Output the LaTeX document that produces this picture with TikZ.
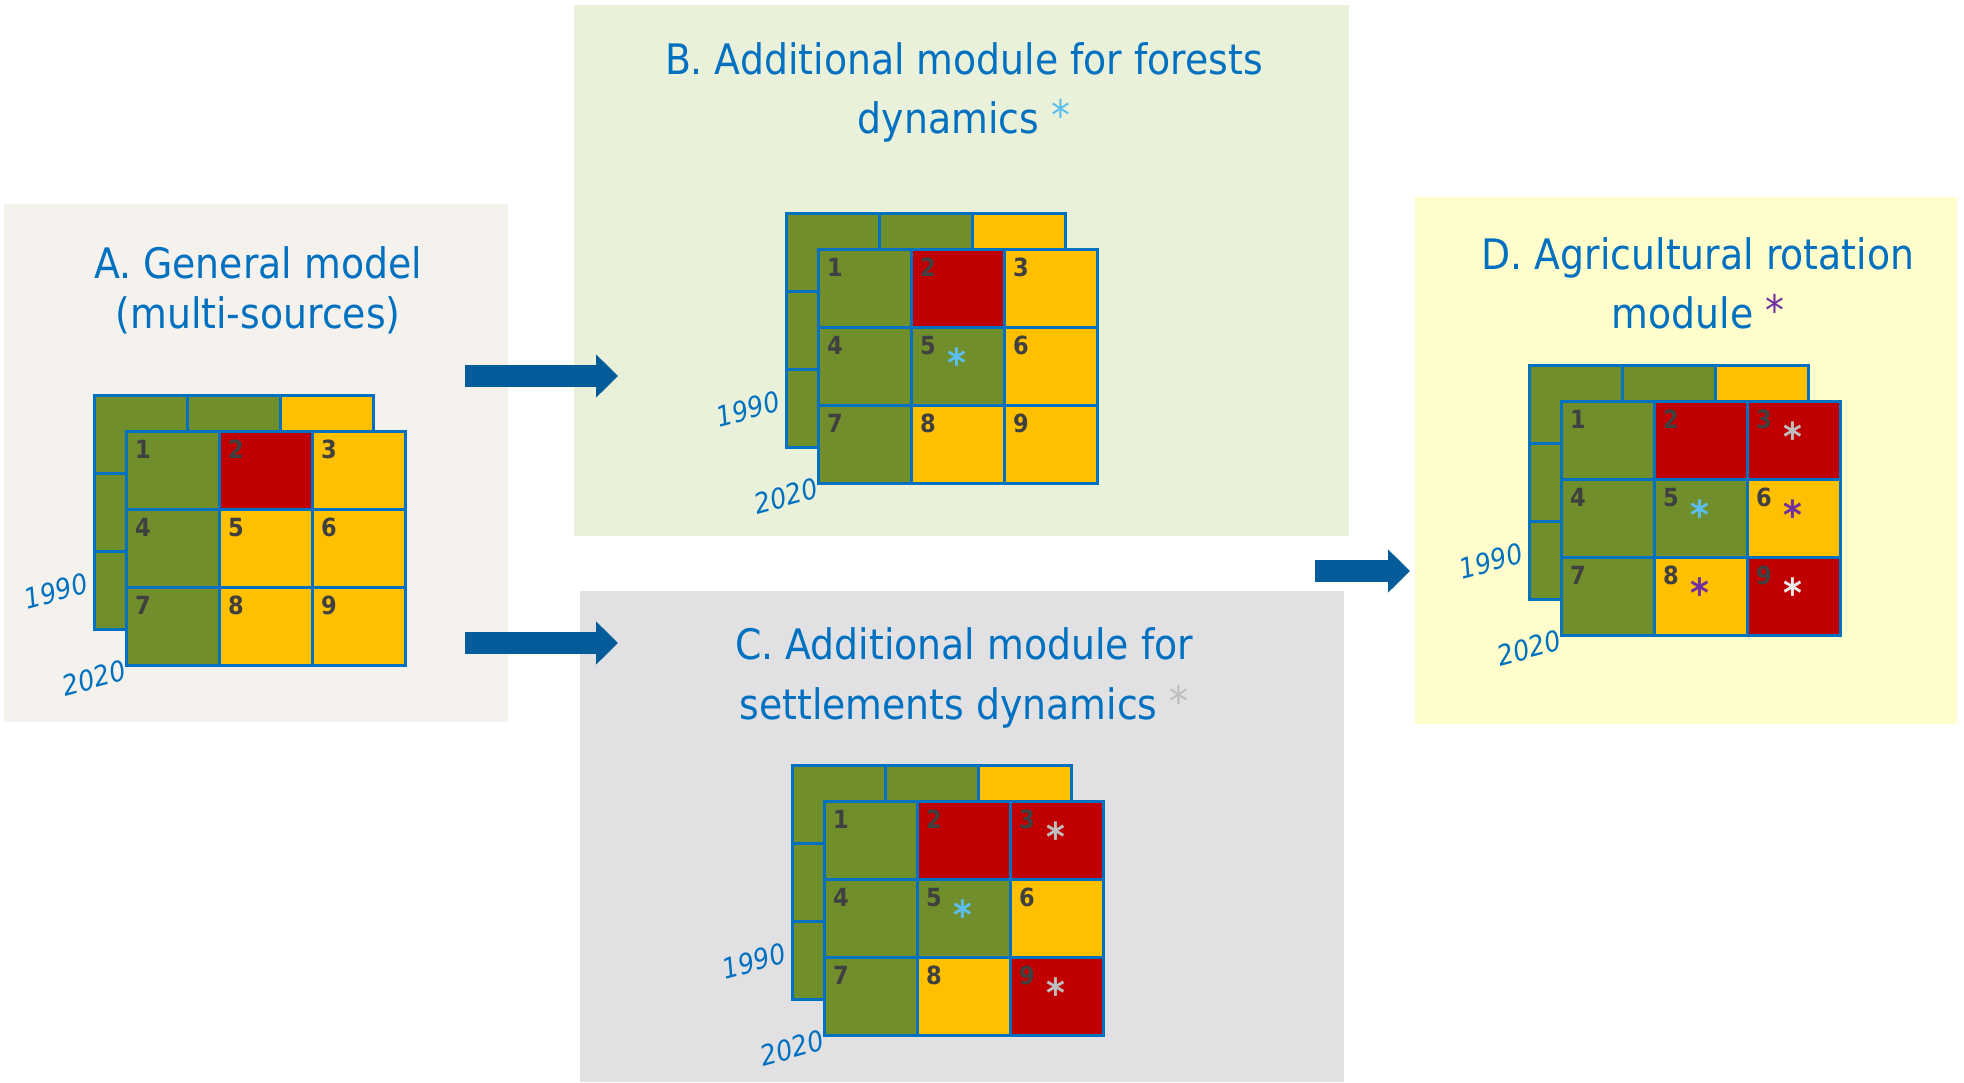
\documentclass[tikz,border=0pt]{standalone}
\usepackage{fontspec}
\setmainfont{DejaVu Sans}[FakeStretch=0.9]
\usetikzlibrary{arrows.meta}
\definecolor{cgreen}{RGB}{112,143,44}
\definecolor{cred}{RGB}{192,0,0}
\definecolor{cyellow}{RGB}{255,192,0}
\definecolor{gridblue}{RGB}{0,112,192}
\definecolor{titleblue}{RGB}{0,112,192}
\definecolor{arrowblue}{RGB}{4,92,155}
\definecolor{numgray}{RGB}{64,64,64}
\definecolor{bgA}{RGB}{245,242,237}
\definecolor{bgB}{RGB}{234,241,218}
\definecolor{bgC}{RGB}{225,225,227}
\definecolor{bgD}{RGB}{255,253,204}
\definecolor{sblue}{RGB}{90,190,240}
\definecolor{sgrey}{RGB}{190,190,190}
\definecolor{spurple}{RGB}{112,48,160}
\definecolor{swhite}{RGB}{235,235,235}
\tikzset{
 panel/.style={anchor=north west, inner sep=0pt, outer sep=0pt, draw=none},
 cell/.style={anchor=north west, inner sep=0pt, outer sep=0pt, minimum width=93pt, minimum height=78pt, draw=gridblue, line width=3pt},
 num/.style={anchor=north west, inner sep=0pt, text=numgray, font=\fontsize{25}{25}\selectfont\bfseries},
 astk/.style={anchor=north, inner sep=0pt, font=\fontsize{40}{40}\selectfont\bfseries},
 ttl/.style={anchor=base, inner sep=0pt, text=titleblue, font=\fontsize{42}{50}\selectfont},
 yr/.style={inner sep=0pt, text=titleblue, rotate=15, font=\fontsize{28}{28}\selectfont\itshape},
 bigarrow/.style={draw=arrowblue, line width=22pt, -{Triangle[length=22pt,width=42pt]}},
}
\newcommand\layergrid[4]{%
  \foreach \c [count=\k] in {cgreen,cgreen,cyellow} {
    \node[cell, fill=\c] (#1-b\k) at ({#2-32+(\k-1)*93},{#3-36}) {};
  }
  \foreach \k in {2,3} {
    \node[cell, fill=cgreen] (#1-bl\k) at ({#2-32},{#3-36+(\k-1)*78}) {};
  }
  \foreach \c [count=\k from 0] in {#4} {
    \pgfmathtruncatemacro\col{mod(\k,3)}
    \pgfmathtruncatemacro\row{div(\k,3)}
    \pgfmathtruncatemacro\num{\k+1}
    \node[cell, fill=\c] (#1-\num) at ({#2+\col*93},{#3+\row*78}) {};
    \node[num] (#1-n\num) at ([shift={(9,9)}]#1-\num.north west) {\num};
  }
  \node[yr] (#1-y1990) at ({#2-70},{#3+160}) {1990};
  \node[yr] (#1-y2020) at ({#2-32},{#3+247}) {2020};
}
\newcommand\cellstar[3]{%
  \node[astk, text=#2] (#3) at ([shift={(46,21)}]#1.north west) {*};
}
\begin{document}
\begin{tikzpicture}[x=1pt,y=-1pt]
\path[fill=white] (0,0) rectangle (1964,1082);
\useasboundingbox (0,0) rectangle (1964,1082);
% panels
\node[panel, fill=bgA, minimum width=504pt, minimum height=518pt] (panA) at (4,204) {};
\node[panel, fill=bgB, minimum width=775pt, minimum height=531pt] (panB) at (574,5) {};
\node[panel, fill=bgC, minimum width=764pt, minimum height=491pt] (panC) at (580,591) {};
\node[panel, fill=bgD, minimum width=542pt, minimum height=527pt] (panD) at (1415,197) {};
% titles
\node[ttl] (tA1) at (258,278) {A. General model};
\node[ttl] (tA2) at (258,328) {(multi-sources)};
\node[ttl] (tB1) at (964,74) {B. Additional module for forests};
\node[ttl] (tB2) at (964,133) {dynamics \raisebox{3pt}{\color{sblue}*}};
\node[ttl] (tC1) at (964,659) {C. Additional module for};
\node[ttl] (tC2) at (964,719) {settlements dynamics \raisebox{3pt}{\color{sgrey}*}};
\node[ttl] (tD1) at (1698,269) {D. Agricultural rotation};
\node[ttl] (tD2) at (1698,328) {module \raisebox{3pt}{\color{spurple}*}};
% grids
\layergrid{A}{126}{431}{cgreen,cred,cyellow,cgreen,cyellow,cyellow,cgreen,cyellow,cyellow}
\layergrid{B}{818}{249}{cgreen,cred,cyellow,cgreen,cgreen,cyellow,cgreen,cyellow,cyellow}
\layergrid{C}{824}{801}{cgreen,cred,cred,cgreen,cgreen,cyellow,cgreen,cyellow,cred}
\layergrid{D}{1561}{401}{cgreen,cred,cred,cgreen,cgreen,cyellow,cgreen,cyellow,cred}
% stars
\cellstar{B-5}{sblue}{sB5}
\cellstar{C-3}{sgrey}{sC3}
\cellstar{C-5}{sblue}{sC5}
\cellstar{C-9}{sgrey}{sC9}
\cellstar{D-3}{sgrey}{sD3}
\cellstar{D-5}{sblue}{sD5}
\cellstar{D-6}{spurple}{sD6}
\cellstar{D-8}{spurple}{sD8}
\cellstar{D-9}{swhite}{sD9}
% arrows
\coordinate (a1s) at (465,376);
\coordinate (a1e) at (618,376);
\coordinate (a2s) at (465,643);
\coordinate (a2e) at (618,643);
\coordinate (a3s) at (1315,571);
\coordinate (a3e) at (1410,571);
\draw[bigarrow] (a1s) -- (a1e);
\draw[bigarrow] (a2s) -- (a2e);
\draw[bigarrow] (a3s) -- (a3e);
\end{tikzpicture}
\end{document}
